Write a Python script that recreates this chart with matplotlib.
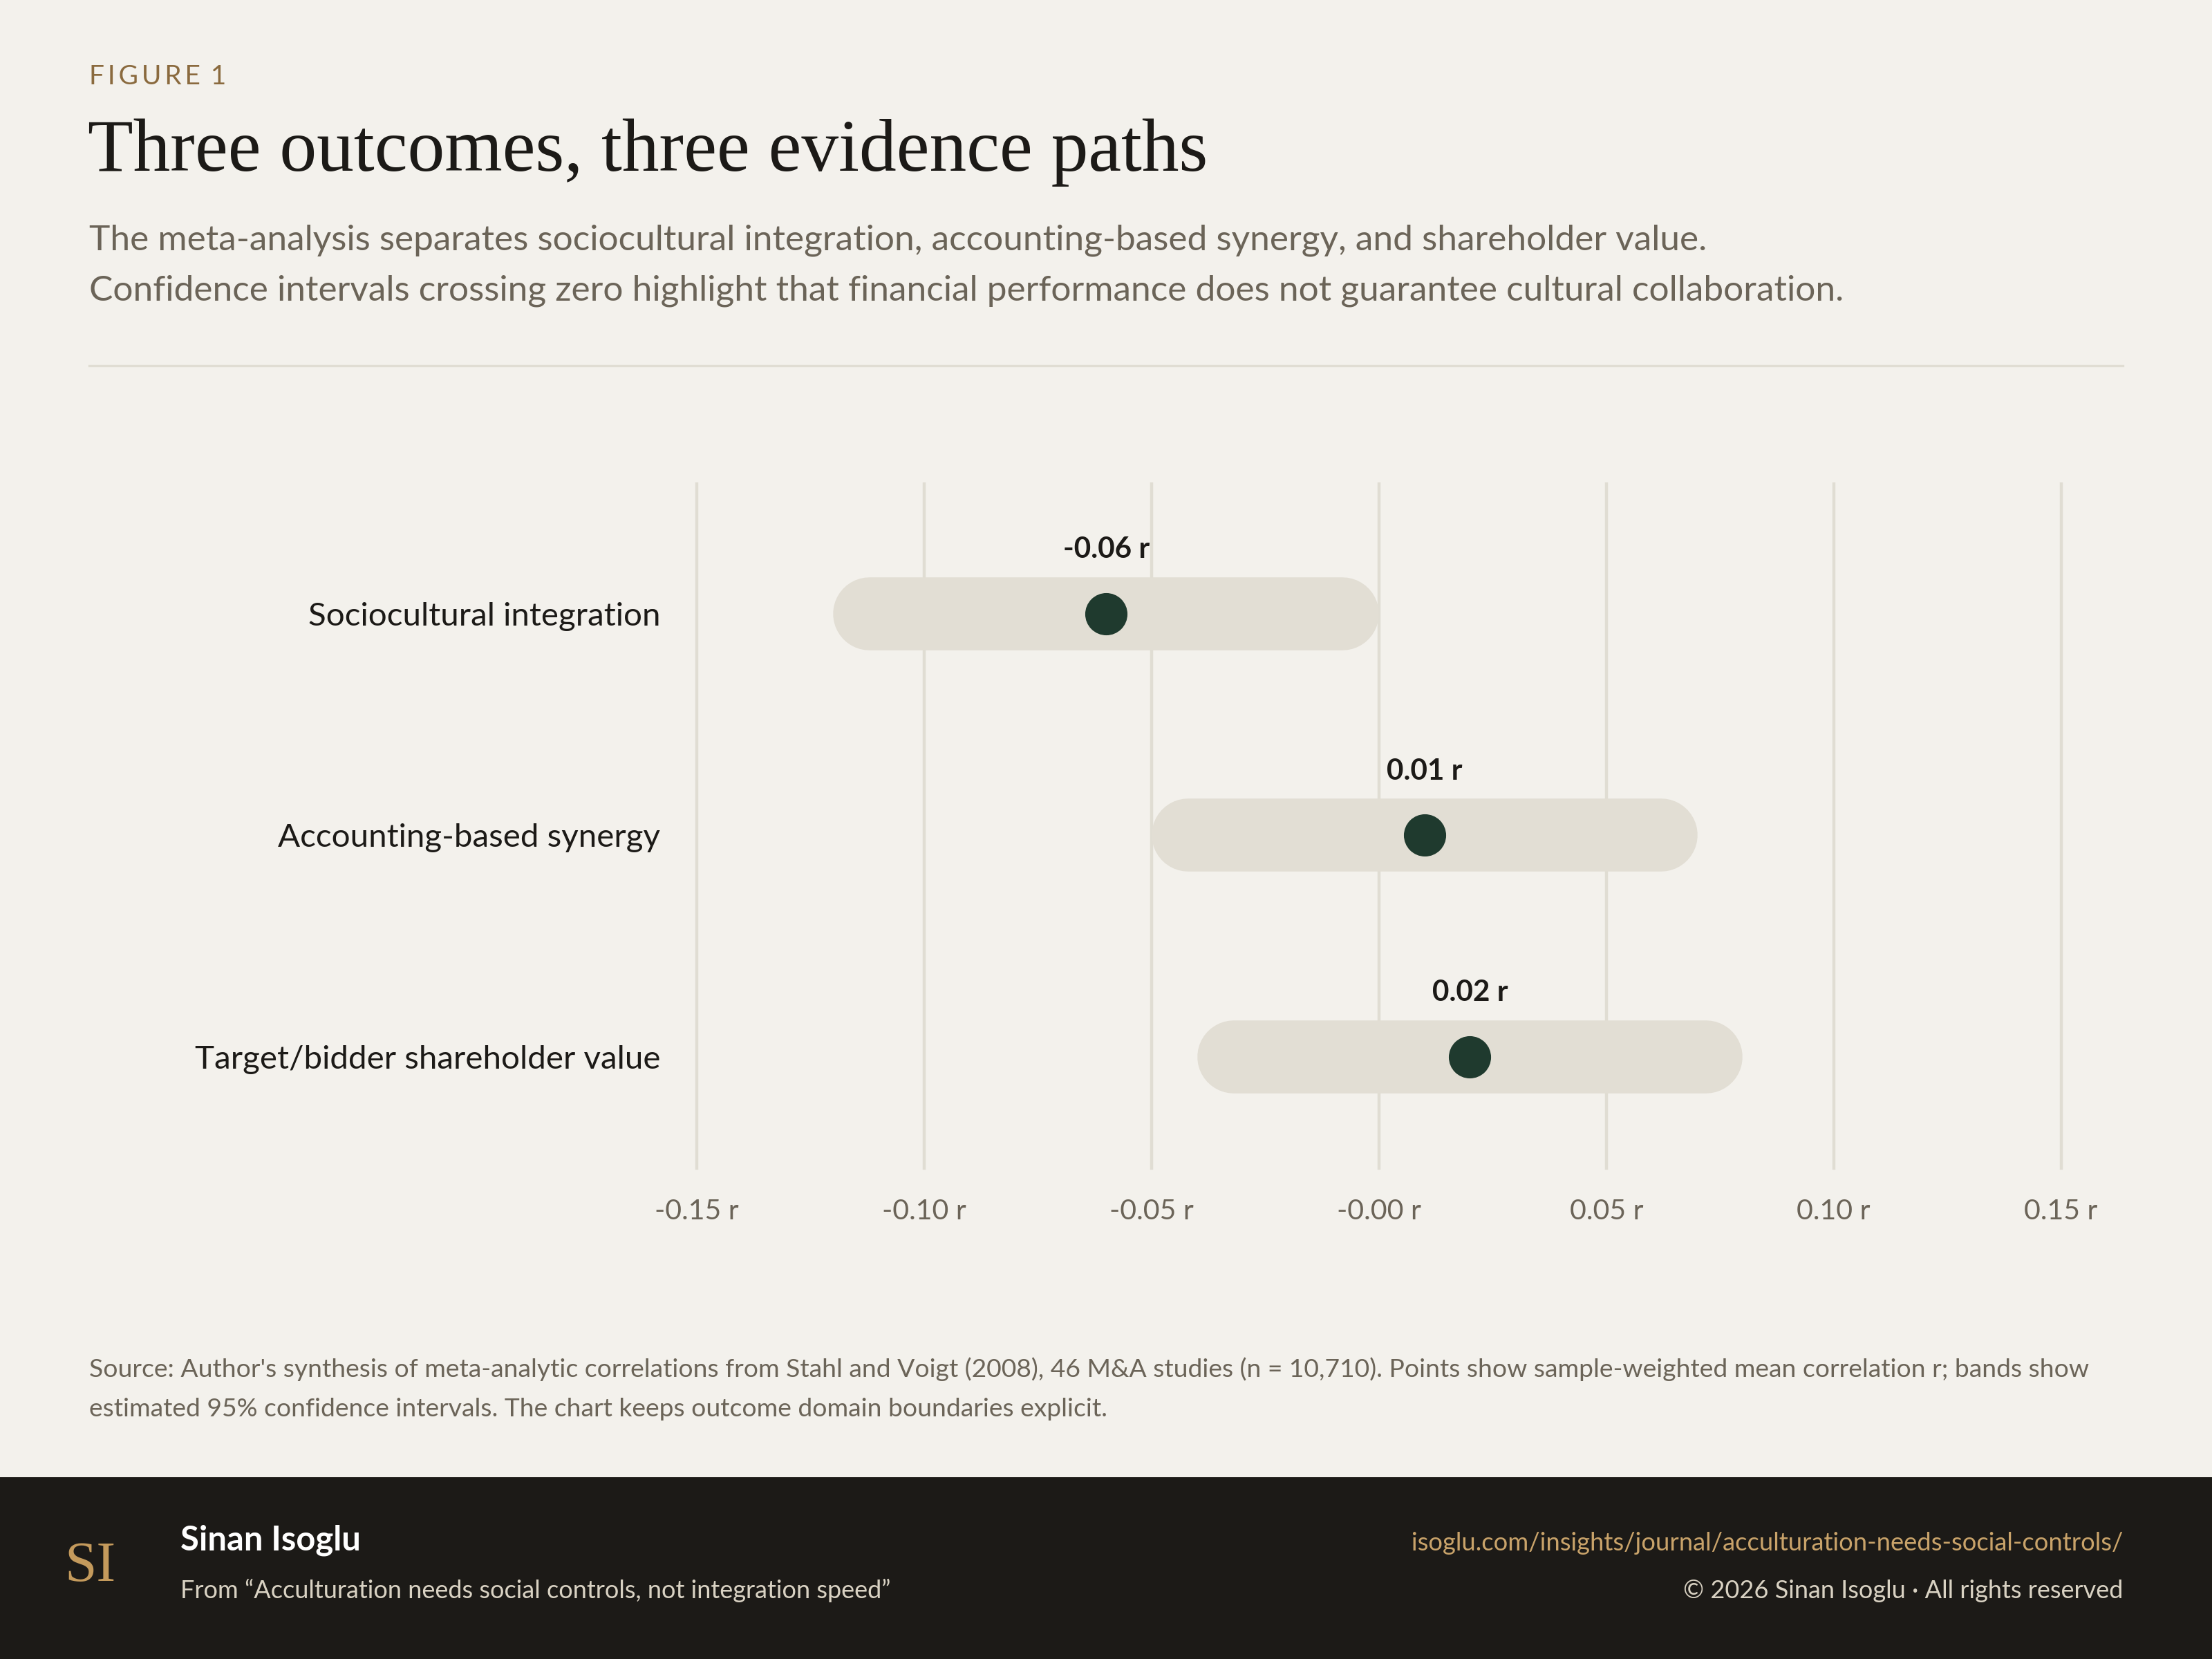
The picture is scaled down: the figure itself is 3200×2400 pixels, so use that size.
import matplotlib
matplotlib.use("Agg")
import matplotlib.pyplot as plt
from matplotlib.patches import Rectangle

# data
outcomes = ["Sociocultural integration", "Accounting-based synergy", "Target/bidder shareholder value"]
mean_r = [-0.06, 0.01, 0.02]
ci_low = [-0.12, -0.05, -0.04]
ci_high = [0.00, 0.07, 0.08]
value_labels = ["-0.06 r", "0.01 r", "0.02 r"]
x_ticks = [-0.15, -0.10, -0.05, 0.00, 0.05, 0.10, 0.15]
x_tick_labels = ["-0.15 r", "-0.10 r", "-0.05 r", "-0.00 r", "0.05 r", "0.10 r", "0.15 r"]

BG = "#f3f1ec"
INK = "#1c1a17"
MUTED = "#6b6458"
GOLD = "#8a6a3e"
BAND = "#e2ded4"
GRID = "#e0ddd3"
DOT = "#1f3a2e"
SANS = ["Lato", "DejaVu Sans"]
SERIF = ["Liberation Serif", "DejaVu Serif"]

W, H = 1568.0, 1176.0  # layout measured on the reference at this scale
def fx(px): return px / W
def fy(py): return 1 - py / H

plt.rcParams['font.family'] = SANS
fig = plt.figure(figsize=(16, 12), dpi=200)
fig.patch.set_facecolor(BG)

# header
fig.text(fx(63), fy(60), "F\u2009I\u2009G\u2009U\u2009R\u2009E\u2009 1", color=GOLD, fontsize=14,
         family=SANS, va="baseline")
fig.text(fx(62), fy(121), "Three outcomes, three evidence paths", color=INK, fontsize=38.7,
         family=SERIF, va="baseline")
fig.text(fx(63), fy(177), "The meta-analysis separates sociocultural integration, accounting-based synergy, and shareholder value.",
         color=MUTED, fontsize=18.5, va="baseline")
fig.text(fx(63), fy(213), "Confidence intervals crossing zero highlight that financial performance does not guarantee cultural collaboration.",
         color=MUTED, fontsize=18.5, va="baseline")
fig.add_artist(plt.Line2D([fx(63), fx(1505)], [fy(259), fy(259)], color=GRID, lw=1.2))

# chart area
ax = fig.add_axes([fx(494), fy(828), fx(1461) - fx(494), fy(343) - fy(828)])
ax.set_facecolor("none")
ax.set_xlim(-0.15, 0.15)
ax.set_ylim(2.503, -0.586)
for s in ax.spines.values():
    s.set_visible(False)
for t in x_ticks:
    ax.axvline(t, color=GRID, lw=1.6, zorder=0, clip_on=False)

band_lw = 38.0  # points
ax_px = ax.get_position().width * fig.get_figwidth() * fig.dpi
r_data = (band_lw / 2 * fig.dpi / 72) * (0.30 / ax_px)

ypos = list(range(len(outcomes)))
for y, m, lo, hi, lab in zip(ypos, mean_r, ci_low, ci_high, value_labels):
    ax.plot([lo + r_data, hi - r_data], [y, y], color=BAND, lw=band_lw,
            solid_capstyle="round", zorder=1)
    ax.plot([m], [y], "o", color=DOT, markersize=22, markeredgewidth=0, zorder=3)
    ax.text(m, y - 0.30, lab, ha="center", va="center_baseline", fontsize=15.2,
            fontweight="bold", color=INK)

ax.set_xticks(x_ticks)
ax.set_xticklabels(x_tick_labels, color=MUTED, fontsize=14.8)
ax.set_yticks(ypos)
ax.set_yticklabels(outcomes, color=INK, fontsize=17.1)
ax.tick_params(axis="x", length=0, pad=16)
ax.tick_params(axis="y", length=0, pad=19)

# source note
fig.text(fx(63), fy(976), "Source: Author's synthesis of meta-analytic correlations from Stahl and Voigt (2008), 46 M&A studies (n = 10,710). Points show sample-weighted mean correlation r; bands show",
         color=MUTED, fontsize=13.4, va="baseline")
fig.text(fx(63), fy(1004), "estimated 95% confidence intervals. The chart keeps outcome domain boundaries explicit.",
         color=MUTED, fontsize=13.4, va="baseline")

# footer
fig.add_artist(Rectangle((0, 0), 1, fy(1047), transform=fig.transFigure, facecolor=INK,
                         edgecolor="none", zorder=0))
fig.text(fx(64), fy(1111), "SI", color="#c49a5c", fontsize=30, family=SERIF, va="center", ha="center")
fig.text(fx(128), fy(1099), "Sinan Isoglu", color="white", fontsize=17.6, fontweight="bold", va="baseline")
fig.text(fx(128), fy(1133), "From \u201cAcculturation needs social controls, not integration speed\u201d",
         color="#d9d2c3", fontsize=13.0, va="baseline")
fig.text(fx(1505), fy(1099), "isoglu.com/insights/journal/acculturation-needs-social-controls/",
         color="#c9a36a", fontsize=13.1, va="baseline", ha="right")
fig.text(fx(1505), fy(1133), "\u00a9 2026 Sinan Isoglu \u00b7 All rights reserved",
         color="#d9d2c3", fontsize=13.0, va="baseline", ha="right")

fig.savefig("out.png", dpi=200, facecolor=BG)
